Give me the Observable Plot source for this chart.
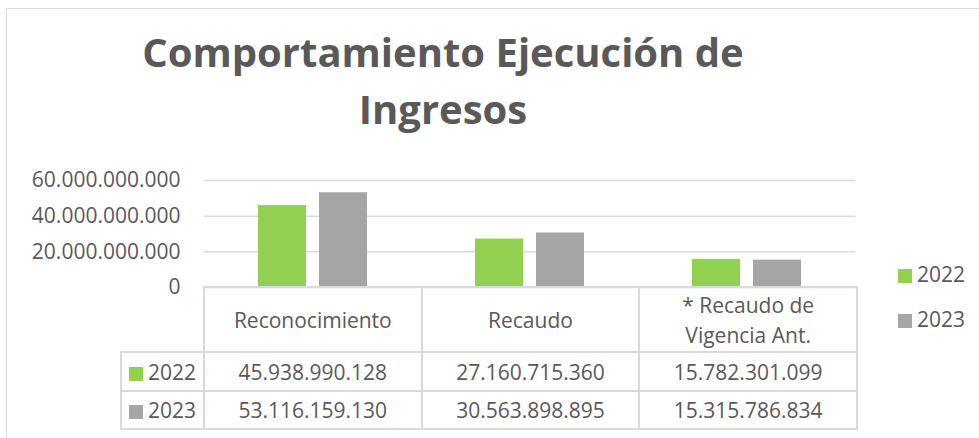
<!DOCTYPE html>
<html>
<head>
<meta charset="utf-8">
<script src="https://cdn.jsdelivr.net/npm/d3@7"></script>
<script src="https://cdn.jsdelivr.net/npm/@observablehq/plot@0.6"></script>
<style>
  html, body { margin: 0; padding: 0; background: #fff; }
  #wrap { position: relative; width: 979px; height: 438px; overflow: hidden; font-family: "Open Sans", sans-serif; color: #595959; }
  #frame { position: absolute; left: 6px; top: 8px; width: 1000px; height: 500px; border: 1.5px solid #d9d9d9; box-sizing: border-box; }
  #title { position: absolute; left: 0; top: 23px; width: 886px; text-align: center; font-weight: 700; font-size: 40px; line-height: 57px; color: #595959; }
  #chart { position: absolute; left: 0; top: 140px; }
  #tbl { position: absolute; left: 120px; top: 286px; border-collapse: collapse; table-layout: fixed; font-size: 21px; color: #595959; }
  #tbl td { border: 2px solid #d9d9d9; text-align: center; padding: 0 18px; line-height: 30px; }
  #tbl td.key { text-align: left; padding: 0 0 0 7px; white-space: nowrap; }
  #tbl td.blank { border-top: none; border-left: none; }
  .sw { display: inline-block; width: 14px; height: 14px; margin-right: 5px; vertical-align: -1px; }
  .leg { position: absolute; left: 898px; font-size: 21px; line-height: 24px; white-space: nowrap; }
</style>
</head>
<body>
<div id="wrap">
  <div id="frame"></div>
  <div id="title">Comportamiento Ejecución de<br>Ingresos</div>
  <div id="chart"></div>
  <table id="tbl"></table>
</div>
<script>
const categories = ["Reconocimiento", "Recaudo", "* Recaudo de Vigencia Ant."];
const years = ["2022", "2023"];
const values2022 = [45938990128, 27160715360, 15782301099];
const values2023 = [53116159130, 30563898895, 15315786834];
const yTicks = [0, 20000000000, 40000000000, 60000000000];
const colors = ["#92D050", "#A5A5A5"];

const seriesValues = [values2022, values2023];
const data = [];
years.forEach((yr, j) => categories.forEach((c, i) => data.push({category: c, year: yr, value: seriesValues[j][i]})));

const fmt = n => d3.format(",")(n).replace(/,/g, ".");

const plot = Plot.plot({
  width: 979,
  height: 150,
  marginTop: 40,
  marginBottom: 3,
  marginLeft: 203,
  marginRight: 123,
  style: {fontFamily: "Open Sans", fontSize: "21px", color: "#595959", background: "transparent", overflow: "visible"},
  fx: {domain: categories, padding: 0, axis: null},
  x: {domain: years, paddingInner: 13 / 62, paddingOuter: 0.86, axis: null},
  y: {domain: [0, 60000000000], ticks: yTicks, tickFormat: fmt, tickSize: 0, tickPadding: 24, label: null},
  color: {domain: years, range: colors},
  marks: [
    Plot.gridY(yTicks, {stroke: "#d9d9d9", strokeOpacity: 1, strokeWidth: 1.5}),
    Plot.barY(data, {fx: "category", x: "year", y: "value", fill: "year"})
  ]
});
document.getElementById("chart").appendChild(plot);

// data table
const tbl = document.getElementById("tbl");
const colW = (979 - 203 - 123) / categories.length;
const cg = document.createElement("colgroup");
[83, ...categories.map(() => colW)].forEach(w => {
  const col = document.createElement("col");
  col.style.width = w + "px";
  cg.appendChild(col);
});
tbl.appendChild(cg);
tbl.style.width = (83 + colW * categories.length) + "px";
const hr = document.createElement("tr");
hr.style.height = "65px";
const blank = document.createElement("td");
blank.className = "blank";
hr.appendChild(blank);
categories.forEach(c => {
  const td = document.createElement("td");
  td.textContent = c;
  hr.appendChild(td);
});
tbl.appendChild(hr);
years.forEach((yr, j) => {
  const tr = document.createElement("tr");
  tr.style.height = j === 0 ? "39px" : "38px";
  const k = document.createElement("td");
  k.className = "key";
  k.innerHTML = `<span class="sw" style="background:${colors[j]}"></span>${yr}`;
  tr.appendChild(k);
  seriesValues[j].forEach(v => {
    const td = document.createElement("td");
    td.textContent = fmt(v);
    tr.appendChild(td);
  });
  tbl.appendChild(tr);
});

// legend
const legTops = [262, 307];
years.forEach((yr, j) => {
  const d = document.createElement("div");
  d.className = "leg";
  d.style.top = legTops[j] + "px";
  d.innerHTML = `<span class="sw" style="background:${colors[j]}"></span>${yr}`;
  document.getElementById("wrap").appendChild(d);
});
</script>
</body>
</html>
